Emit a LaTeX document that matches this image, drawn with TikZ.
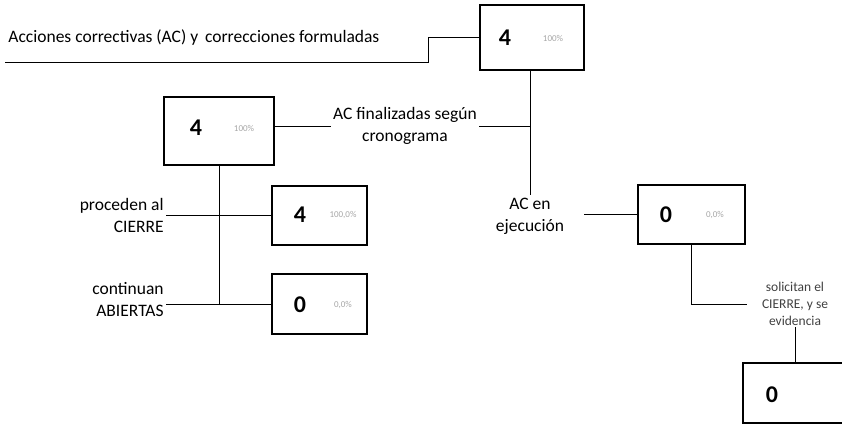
\documentclass[tikz,border=0pt]{standalone}
\usepackage{fontspec}
\setmainfont{Carlito}
\usetikzlibrary{positioning}

\begin{document}
\begin{tikzpicture}[
    x = 1pt,
    y = -1pt,
    line width = 0.8pt,
    box/.style={draw, line width=1.6pt, inner sep=0pt},
    num/.style={font=\fontsize{24}{28}\selectfont\bfseries},
    pct/.style={font=\fontsize{9}{11}\selectfont, text=black!35},
    lbl/.style={font=\fontsize{17.5}{22}\selectfont, align=center, inner sep=2pt},
    small/.style={font=\fontsize{13.5}{17}\selectfont, align=center, text=black!75, inner sep=1pt}
]
    \useasboundingbox (0,0) rectangle (842,424);

    % boxes
    \node[box, minimum width=104pt, minimum height=65pt] (b1) at (532,37.5) {};
    \node[box, minimum width=110pt, minimum height=68pt] (b2) at (219,131) {};
    \node[box, minimum width=95pt, minimum height=59pt] (b3) at (319.5,215.5) {};
    \node[box, minimum width=95pt, minimum height=60pt] (b4) at (319.5,304) {};
    \node[box, minimum width=107pt, minimum height=59pt] (b5) at (691.5,214.5) {};
    \node[box, minimum width=130pt, minimum height=60pt] (b6) at (808,393) {};

    % values
    \node[num] (v1) at (505,38) {4};
    \node[pct] (p1) at (553,38) {100\%};
    \node[num] (v2) at (196,128) {4};
    \node[pct] (p2) at (244,128) {100\%};
    \node[num] (v3) at (300,215) {4};
    \node[pct] (p3) at (343,215) {100,0\%};
    \node[num] (v4) at (300,305) {0};
    \node[pct] (p4) at (343,305) {0,0\%};
    \node[num] (v5) at (666,215) {0};
    \node[pct] (p5) at (715,215) {0,0\%};
    \node[num] (v6) at (772,395) {0};

    % labels
    \node[lbl, anchor=west] (titulo) at (6,38) {Acciones correctivas (AC) y\, correcciones formuladas};
    \node[lbl] (fin) at (405,126) {AC finalizadas según\\cronograma};
    \node[lbl] (ejec) at (530,216) {AC en\\ejecución};
    \node[lbl, align=right, anchor=east] (proc) at (166,215) {proceden al\\CIERRE};
    \node[lbl, align=right, anchor=east] (cont) at (166,300) {continuan\\ABIERTAS};
    \node[small] (sol) at (795,304) {solicitan el\\CIERRE, y se\\evidencia};

    \coordinate (base0) at (5,62);
    \coordinate (base1) at (428,62);

    % connectors
    \draw (base0) -- (base1) |- (b1.west);
    \draw (b1.south -| ejec) -- (ejec.north);
    \draw (fin.west -| b2.east) -- (fin.west);
    \draw (fin.east) -- (fin.east -| ejec);
    \draw (b2.south) -- (b2.south |- b4.west);
    \draw (proc.east |- b3.west) -- (b3.west);
    \draw (cont.east |- b4.west) -- (b4.west);
    \draw ([xshift=18pt]ejec.east |- b5.west) -- (b5.west);
    \draw (b5.south) |- ([xshift=-14pt]sol.west);
    \draw (sol.south) -- (sol.south |- b6.north);
\end{tikzpicture}
\end{document}
